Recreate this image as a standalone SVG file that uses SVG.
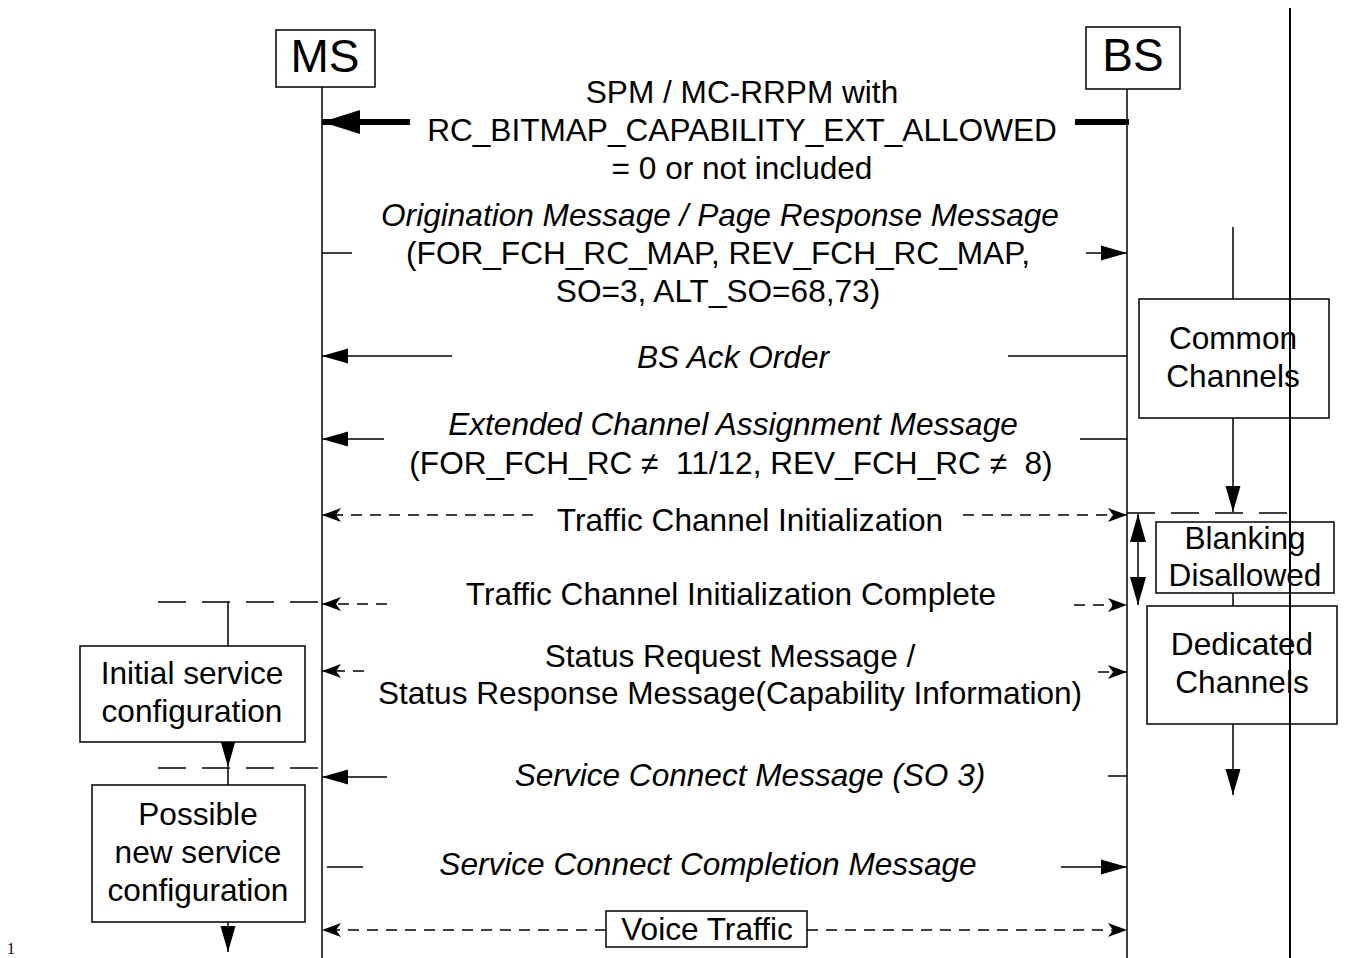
<svg xmlns="http://www.w3.org/2000/svg" width="1346" height="958" viewBox="0 0 1346 958">
<style>
text{font-family:"Liberation Sans",Arial,sans-serif;font-size:31.6px;fill:#000;text-anchor:middle}
.it{font-style:italic}
.big{font-size:46px}
.box{fill:#fff;stroke:#000;stroke-width:1.5}
.life{stroke:#000;stroke-width:1.5;fill:none}
.ln{stroke:#000;stroke-width:1.5;fill:none}
.dash{stroke:#000;stroke-width:1.5;fill:none;stroke-dasharray:11 8}
.ldash{stroke:#000;stroke-width:1.5;fill:none;stroke-dasharray:28 16}
.thick{stroke:#000;stroke-width:6;fill:none}
</style>
<defs>
<marker id="ah" markerUnits="userSpaceOnUse" viewBox="0 -8 26 16" refX="26" refY="0" markerWidth="26" markerHeight="16" orient="auto-start-reverse"><path d="M0,-7.5 L26,0 L0,7.5 z" fill="#000"/></marker>
<marker id="ahB" markerUnits="userSpaceOnUse" viewBox="0 -9 28 18" refX="28" refY="0" markerWidth="28" markerHeight="18" orient="auto-start-reverse"><path d="M0,-8 L28,0 L0,8 z" fill="#000"/></marker>
<marker id="ahT" markerUnits="userSpaceOnUse" viewBox="0 -13 38 26" refX="38" refY="0" markerWidth="38" markerHeight="26" orient="auto-start-reverse"><path d="M0,-12 L38,0 L0,12 z" fill="#000"/></marker>
<marker id="ahD" markerUnits="userSpaceOnUse" viewBox="0 -8 19 16" refX="19" refY="0" markerWidth="19" markerHeight="16" orient="auto-start-reverse"><path d="M0,-7 L19,0 L0,7 L5,0 z" fill="#000"/></marker>
</defs>

<g id="lifelines">
<line class="life" x1="322" y1="87" x2="322" y2="958"/>
<line class="life" x1="1127" y1="89" x2="1127" y2="958"/>
</g>

<g id="MS"><rect class="box" x="276" y="30" width="99" height="57"/><text class="big" x="325" y="72">MS</text></g>
<g id="BS"><rect class="box" x="1086" y="27" width="94" height="62"/><text class="big" x="1133" y="71">BS</text></g>

<g id="connectors">
<line class="thick" x1="410" y1="122" x2="322" y2="122" marker-end="url(#ahT)"/>
<line class="thick" x1="1075" y1="122" x2="1129" y2="122"/>
<line class="ln" x1="322" y1="253" x2="352" y2="253"/>
<line class="ln" x1="1086" y1="253" x2="1127" y2="253" marker-end="url(#ah)"/>
<line class="ln" x1="452" y1="356" x2="322" y2="356" marker-end="url(#ah)"/>
<line class="ln" x1="1008" y1="356" x2="1127" y2="356"/>
<line class="ln" x1="384" y1="439" x2="322" y2="439" marker-end="url(#ah)"/>
<line class="ln" x1="1080" y1="439" x2="1127" y2="439"/>
<line class="dash" x1="533" y1="515" x2="322" y2="515" marker-end="url(#ahD)"/>
<line class="dash" x1="963" y1="515" x2="1127" y2="515" marker-end="url(#ahD)"/>
<line class="dash" x1="387" y1="604" x2="322" y2="604" marker-end="url(#ahD)"/>
<line class="dash" x1="1074" y1="605" x2="1127" y2="605" marker-end="url(#ahD)"/>
<line class="dash" x1="364" y1="671" x2="322" y2="671" marker-end="url(#ahD)"/>
<line class="dash" x1="1098" y1="672" x2="1127" y2="672" marker-end="url(#ahD)"/>
<line class="ln" x1="387" y1="777" x2="322" y2="777" marker-end="url(#ah)"/>
<line class="ln" x1="1108" y1="776" x2="1127" y2="776"/>
<line class="ln" x1="327" y1="867" x2="363" y2="867"/>
<line class="ln" x1="1061" y1="867" x2="1127" y2="867" marker-end="url(#ah)"/>
<line class="dash" x1="606" y1="930" x2="322" y2="930" marker-end="url(#ahD)"/>
<line class="dash" x1="807" y1="930" x2="1127" y2="930" marker-end="url(#ahD)"/>
<line class="ldash" x1="158" y1="602" x2="322" y2="602"/>
<line class="ln" x1="228" y1="602" x2="228" y2="646"/>
<line class="ln" x1="228" y1="742" x2="228" y2="767" marker-end="url(#ah)"/>
<line class="ldash" x1="158" y1="768" x2="322" y2="768"/>
<line class="ln" x1="228" y1="768" x2="228" y2="785"/>
<line class="ln" x1="228" y1="922" x2="228" y2="952" marker-end="url(#ah)"/>
<line class="ln" x1="1233" y1="227" x2="1233" y2="299"/>
<line class="ln" x1="1233" y1="418" x2="1233" y2="512" marker-end="url(#ah)"/>
<line class="ldash" x1="1127" y1="513" x2="1292" y2="513"/>
<line class="ln" x1="1138" y1="514" x2="1138" y2="605" marker-start="url(#ahB)" marker-end="url(#ahB)"/>
<line class="ln" x1="1233" y1="593" x2="1233" y2="606"/>
<line class="ln" x1="1233" y1="724" x2="1233" y2="795" marker-end="url(#ah)"/>
</g>

<g id="msg-spm">
<text x="742" y="103">SPM / MC-RRPM with</text>
<text x="742" y="141">RC_BITMAP_CAPABILITY_EXT_ALLOWED</text>
<text x="742" y="179">= 0 or not included</text>
</g>
<g id="msg-orig">
<text class="it" x="720" y="226">Origination Message / Page Response Message</text>
<text x="718" y="264">(FOR_FCH_RC_MAP, REV_FCH_RC_MAP,</text>
<text x="718" y="302">SO=3, ALT_SO=68,73)</text>
</g>
<g id="msg-ack"><text class="it" x="733" y="368">BS Ack Order</text></g>
<g id="msg-ecam">
<text class="it" x="733" y="435">Extended Channel Assignment Message</text>
<text x="731" y="474" xml:space="preserve">(FOR_FCH_RC ≠  11/12, REV_FCH_RC ≠  8)</text>
</g>
<g id="msg-tci"><text x="750" y="531">Traffic Channel Initialization</text></g>
<g id="msg-tcic"><text x="731" y="605">Traffic Channel Initialization Complete</text></g>
<g id="msg-status">
<text x="730" y="667">Status Request Message /</text>
<text x="730" y="704">Status Response Message(Capability Information)</text>
</g>
<g id="msg-scm"><text class="it" x="750" y="786">Service Connect Message (SO 3)</text></g>
<g id="msg-sccm"><text class="it" x="708" y="875">Service Connect Completion Message</text></g>
<g id="voice"><rect class="box" x="606" y="911" width="201" height="36"/><text x="707" y="940">Voice Traffic</text></g>

<g id="initial"><rect class="box" x="80" y="646" width="225" height="96"/><text x="192" y="684">Initial service</text><text x="192" y="722">configuration</text></g>
<g id="possible"><rect class="box" x="92" y="785" width="213" height="137"/><text x="198" y="825">Possible</text><text x="198" y="863">new service</text><text x="198" y="901">configuration</text></g>

<g id="common"><rect class="box" x="1139" y="299" width="190" height="119"/><text x="1233" y="349">Common</text><text x="1233" y="387">Channels</text></g>
<g id="blanking"><rect class="box" x="1156" y="522" width="178" height="71"/><text x="1245" y="549">Blanking</text><text x="1245" y="586">Disallowed</text></g>
<g id="dedicated"><rect class="box" x="1147" y="606" width="190" height="118"/><text x="1242" y="655">Dedicated</text><text x="1242" y="693">Channels</text></g>

<g id="rightline"><line stroke="#000" stroke-width="2" x1="1290" y1="8" x2="1290" y2="958"/></g>
<text x="11" y="954" style="font-family:'Liberation Serif',serif;font-size:16px">1</text>
</svg>
